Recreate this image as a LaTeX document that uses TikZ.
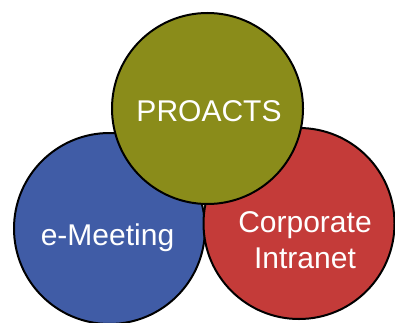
\documentclass[tikz,border=0pt]{standalone}
\usepackage{fontspec}
\setmainfont{Liberation Sans}
\definecolor{olivec}{HTML}{8A8C1A}
\definecolor{bluec}{HTML}{405CA6}
\definecolor{redc}{HTML}{C43B39}
\begin{document}
\begin{tikzpicture}[x=1pt,y=1pt,
  ball/.style={circle,draw=black,line width=2pt,minimum size=191pt,inner sep=0pt},
  lbl/.style={text=white,font=\fontsize{30}{36}\selectfont,anchor=base,inner sep=0pt}]
\useasboundingbox (0,0) rectangle (395,322);
\node[ball,fill=bluec] (blue) at (109.5,93.5) {};
\node[ball,fill=redc] (red) at (299,98.5) {};
\node[ball,fill=olivec] (olive) at (207.5,213.5) {};
\node[lbl] (t1) at (209,200.5) {PROACTS};
\node[lbl] (t2) at (107.5,77) {e-Meeting};
\node[lbl] (t3) at (305,90) {Corporate};
\node[lbl] (t4) at (305,54) {Intranet};
\end{tikzpicture}
\end{document}
